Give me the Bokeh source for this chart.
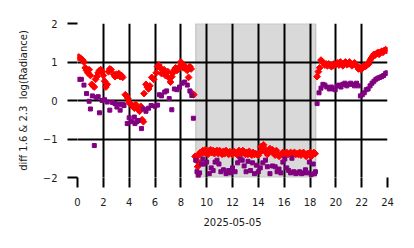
import numpy as np
from bokeh.plotting import figure
from bokeh.models import FixedTicker, BoxAnnotation
from bokeh.embed import file_html
from bokeh.resources import INLINE

# ---- data (hours of day, diff log radiance) ----
red_t = [0.0, 0.1, 0.2, 0.3, 0.4, 0.5, 0.6, 0.7, 0.8, 0.9, 1.0, 1.1, 1.2, 1.3, 1.4, 1.5, 1.6, 1.7,
         1.8, 1.9, 2.0, 2.1, 2.2, 2.3, 2.4, 2.5, 2.6, 2.8, 2.9, 3.0, 3.1, 3.2, 3.3, 3.4, 3.5, 3.7,
         3.8, 3.9, 4.0, 4.1, 4.2, 4.3, 4.4, 4.5, 4.6, 4.7, 4.8, 4.9, 5.0, 5.1, 5.15, 5.3, 5.4, 5.5,
         5.6, 5.75, 5.9, 6.1, 6.2, 6.3, 6.4, 6.5, 6.6, 6.7, 6.8, 6.9, 7.0, 7.1, 7.2, 7.3, 7.4, 7.5,
         7.6, 7.7, 7.8, 7.9, 8.0, 8.1, 8.2, 8.3, 8.4, 8.5, 8.6, 8.7, 8.8, 8.9, 9.0,
         9.1, 9.2, 9.3, 9.35, 9.4, 9.5, 9.6, 9.7, 9.8, 9.9, 10.0, 10.1, 10.2, 10.3, 10.4, 10.5,
         10.6, 10.7, 10.8, 10.9, 11.0, 11.1, 11.2, 11.3, 11.4, 11.5, 11.6, 11.7, 11.8, 11.9, 12.0,
         12.1, 12.2, 12.3, 12.4, 12.5, 12.6, 12.7, 12.8, 12.9, 13.0, 13.1, 13.2, 13.3, 13.4, 13.5,
         13.6, 13.7, 13.8, 13.9, 14.0, 14.1, 14.2, 14.3, 14.4, 14.5, 14.6, 14.7, 14.8, 14.9, 15.0,
         15.1, 15.2, 15.3, 15.4, 15.5, 15.6, 15.8, 15.9, 16.0, 16.1, 16.2, 16.3, 16.4, 16.5, 16.6,
         16.7, 16.8, 16.9, 17.0, 17.1, 17.2, 17.3, 17.4, 17.5, 17.6, 17.7, 17.8, 17.9, 18.0, 18.1,
         18.2, 18.3, 18.4,
         18.55, 18.65, 18.75, 18.85, 18.95, 19.05, 19.15, 19.25, 19.35, 19.45, 19.55, 19.65, 19.75,
         19.85, 19.95, 20.05, 20.15, 20.25, 20.35, 20.45, 20.55, 20.65, 20.75, 20.85, 20.95, 21.05,
         21.15, 21.25, 21.35, 21.45, 21.55, 21.65, 21.75, 21.85, 21.95, 22.05, 22.15, 22.25, 22.35,
         22.45, 22.55, 22.65, 22.75, 22.85, 22.95, 23.05, 23.15, 23.25, 23.35, 23.45, 23.55, 23.65,
         23.75, 23.85, 23.95]
red_v = [1.12, 1.13, 1.1, 1.08, 1.05, 1.0, 0.85, 0.78, 0.72, 0.8, 0.65, 0.42, 0.38, 0.35, 0.55, 0.62, 0.72, 0.78,
         0.8, 0.75, 0.65, 0.5, 0.35, 0.42, 0.75, 0.82, 0.8, 0.68, 0.62, 0.68, 0.65, 0.7, 0.62, 0.65, 0.6, 0.15,
         0.12, 0.05, -0.05, -0.1, -0.12, -0.15, -0.2, -0.1, -0.18, -0.22, -0.28, -0.15, -0.5, -0.55, 0.18, 0.42, 0.35, 0.3,
         0.38, 0.6, 0.55, 0.72, 0.88, 0.92, 0.85, 0.7, 0.78, 0.8, 0.65, 0.72, 0.75, 0.58, 0.48, 0.62, 0.72, 0.8,
         0.85, 0.78, 0.82, 0.88, 1.0, 0.92, 0.85, 0.9, 0.82, 0.78, 0.6, 0.88, 0.82, 0.18, 0.15,
         -1.45, -1.48, -1.72, -1.6, -1.4, -1.35, -1.38, -1.3, -1.35, -1.28, -1.32, -1.4, -1.3, -1.28, -1.35, -1.3,
         -1.38, -1.32, -1.3, -1.38, -1.3, -1.35, -1.4, -1.32, -1.38, -1.3, -1.35, -1.4, -1.33, -1.37, -1.4,
         -1.32, -1.35, -1.38, -1.42, -1.3, -1.35, -1.38, -1.3, -1.33, -1.4, -1.35, -1.4, -1.32, -1.38, -1.42,
         -1.35, -1.4, -1.38, -1.4, -1.42, -1.35, -1.2, -1.3, -1.15, -1.25, -1.35, -1.4, -1.3, -1.25, -1.32,
         -1.28, -1.35, -1.42, -1.3, -1.38, -1.45, -1.4, -1.35, -1.42, -1.38, -1.35, -1.4, -1.38, -1.35, -1.4,
         -1.37, -1.35, -1.4, -1.38, -1.4, -1.35, -1.42, -1.38, -1.35, -1.4, -1.45, -1.38, -1.4, -1.35, -1.45,
         -1.4, -1.35, -1.38,
         0.62, 0.75, 0.85, 1.05, 1.0, 0.98, 0.92, 0.95, 0.9, 0.95, 0.92, 0.88, 0.9,
         0.95, 0.92, 0.95, 0.98, 0.92, 1.0, 0.95, 0.9, 0.97, 1.0, 0.93, 0.95, 1.0,
         0.95, 0.9, 0.95, 0.98, 0.92, 0.88, 0.82, 0.85, 0.8, 0.85, 0.9, 0.88, 0.9,
         0.95, 0.95, 1.05, 1.1, 1.15, 1.2, 1.18, 1.22, 1.25, 1.2, 1.25, 1.28, 1.25,
         1.3, 1.32, 1.3]

pur_t = [0.1, 0.3, 0.5, 0.7, 0.9, 1.0, 1.15, 1.3, 1.45, 1.6, 1.7, 1.9, 2.1, 2.3, 2.5, 2.7, 2.9, 3.05,
         3.2, 3.3, 3.5, 3.6, 3.85, 4.0, 4.2, 4.4, 4.45, 4.6, 4.7, 4.95, 5.1, 5.3, 5.5, 5.7, 6.0, 6.2,
         6.35, 6.5, 6.75, 6.9, 7.1, 7.3, 7.5, 7.7, 7.9, 8.1, 8.3, 8.5, 8.7, 8.85, 8.97,
         9.15, 9.25, 9.35, 9.45, 9.6, 9.7, 9.8, 10.0, 10.2, 10.35, 10.5, 10.65, 10.8, 10.95, 11.1,
         11.3, 11.5, 11.7, 11.85, 12.0, 12.2, 12.4, 12.6, 12.75, 12.9, 13.05, 13.2, 13.4, 13.55, 13.7,
         13.85, 14.0, 14.15, 14.35, 14.55, 14.7, 14.9, 15.1, 15.3, 15.45, 15.6, 15.75, 15.9, 16.05,
         16.2, 16.35, 16.5, 16.6, 16.75, 16.9, 17.05, 17.2, 17.35, 17.5, 17.65, 17.8, 17.95, 18.1,
         18.25, 18.35, 18.42,
         18.55, 18.7, 18.85, 19.0, 19.15, 19.3, 19.5, 19.65, 19.8, 19.95, 20.1, 20.25, 20.4, 20.55,
         20.7, 20.85, 21.0, 21.15, 21.3, 21.45, 21.6, 21.75, 21.9, 22.05, 22.2, 22.35, 22.5, 22.65,
         22.8, 22.95, 23.1, 23.25, 23.4, 23.55, 23.7, 23.85, 23.95]
pur_v = [0.55, 0.55, 0.4, 0.18, -0.02, -0.22, 0.12, -1.17, 0.08, 0.1, -0.32, 0.0, 0.02, -0.04, -0.25, -0.05, -0.08, -0.17,
         -0.1, -0.25, -0.1, -0.13, -0.6, -0.45, -0.55, -0.43, -0.6, -0.55, -0.52, -0.73, -0.22, -0.28, -0.2, -0.13, -0.15, -0.12,
         0.15, 0.12, 0.22, 0.25, 0.05, -0.24, 0.3, 0.28, 0.35, 0.45, 0.48, 0.4, 0.25, 0.13, -0.46,
         -1.55, -1.85, -1.95, -1.88, -1.65, -1.52, -1.65, -1.6, -1.9, -1.75, -1.82, -1.6, -1.55, -1.65, -1.85,
         -1.8, -1.9, -1.82, -1.88, -1.75, -1.85, -1.62, -1.52, -1.55, -1.7, -1.85, -1.58, -1.82, -1.62, -1.9,
         -1.68, -1.85, -1.75, -1.62, -1.55, -1.72, -1.9, -1.7, -1.72, -1.85, -1.78, -1.88, -1.6, -1.52,
         -1.75, -1.82, -1.88, -1.5, -1.85, -1.9, -1.88, -1.85, -1.9, -1.88, -1.8, -1.88, -1.6, -1.92,
         -1.65, -1.9, -1.85,
         -0.08, 0.2, 0.32, 0.42, 0.4, 0.35, 0.3, 0.35, 0.3, 0.28, 0.38, 0.4, 0.35, 0.42,
         0.45, 0.38, 0.42, 0.45, 0.42, 0.38, 0.45, 0.38, 0.12, 0.15, 0.2, 0.28, 0.3, 0.38,
         0.45, 0.5, 0.55, 0.58, 0.6, 0.62, 0.65, 0.7, 0.72]

night_start = 9.15
night_end = 18.45
x_ticks = list(range(0, 25, 2))
y_ticks = [-2, -1, 0, 1, 2]
y_labels = {-2: "\u22122", -1: "\u22121", 0: "0", 1: "1", 2: "2"}
x_label = "2025-05-05"
y_label = "diff 1.6 & 2.3 \u00a0log(Radiance)"

FONT = "DejaVu Sans"
FS = "10px"

p = figure(width=414, height=248, x_range=(0, 24), y_range=(-2, 2),
           output_backend="svg", toolbar_location=None,
           min_border_left=77, min_border_right=27, min_border_top=23, min_border_bottom=71)
p.outline_line_color = None
p.background_fill_color = "white"
p.border_fill_color = "white"

p.add_layout(BoxAnnotation(left=night_start, right=night_end, fill_color="gray", fill_alpha=0.3,
                           line_color="gray", line_alpha=0.3, line_width=1.5, level="image"))

p.scatter(red_t, red_v, marker="square", angle=np.pi / 4, size=4.8, color="red")
p.scatter(pur_t, pur_v, marker="square", size=4, color="purple")

for g, ticks in ((p.xgrid, x_ticks), (p.ygrid, y_ticks)):
    g.ticker = FixedTicker(ticks=ticks)
    g.grid_line_color = "black"
    g.grid_line_width = 2

for ax, ticks in ((p.xaxis, x_ticks), (p.yaxis, y_ticks)):
    ax.ticker = FixedTicker(ticks=ticks)
    ax.axis_line_color = None
    ax.major_tick_line_color = "black"
    ax.major_tick_line_width = 2
    ax.major_tick_out = 10
    ax.major_tick_in = 0
    ax.minor_tick_line_color = None
    ax.major_label_text_font = FONT
    ax.major_label_text_font_size = FS
    ax.major_label_text_color = "#1a1a1a"
    ax.major_label_standoff = 10
    ax.axis_label_text_font = FONT
    ax.axis_label_text_font_size = FS
    ax.axis_label_text_font_style = "normal"
    ax.axis_label_text_color = "#1a1a1a"

p.yaxis.major_label_overrides = y_labels
p.xaxis.axis_label = x_label
p.yaxis.axis_label = y_label
p.xaxis.axis_label_standoff = 9
p.yaxis.axis_label_standoff = 11

open("out.html", "w").write(file_html(p, INLINE))
